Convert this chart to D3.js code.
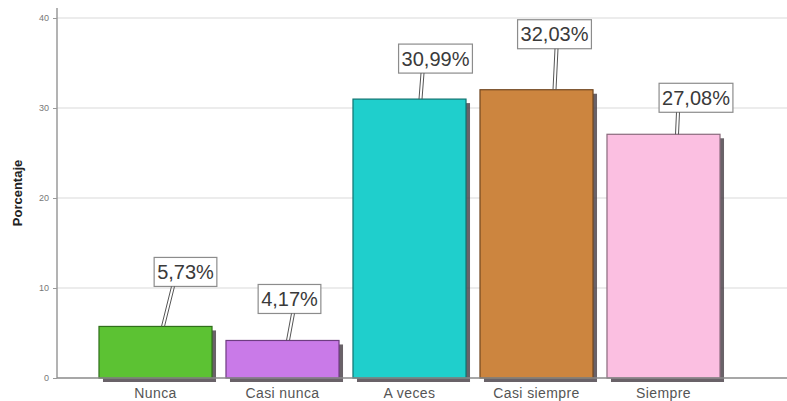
<!DOCTYPE html>
<html>
<head>
<meta charset="utf-8">
<script src="https://cdn.jsdelivr.net/npm/d3@7/dist/d3.min.js"></script>
<style>
  html, body { margin: 0; padding: 0; background: #fff; }
  svg { display: block; font-family: "Liberation Sans", Arial, sans-serif; }
</style>
</head>
<body>
<svg id="chart" width="787" height="401"></svg>
<script>
// Response categories and their percentages
const categories = ["Nunca", "Casi nunca", "A veces", "Casi siempre", "Siempre"];
const percentages = [5.73, 4.17, 30.99, 32.03, 27.08];
const valueLabels = ["5,73%", "4,17%", "30,99%", "32,03%", "27,08%"];
const yTicks = [0, 10, 20, 30, 40];
const barColors = ["#5cc233", "#c97ae8", "#1fcfcc", "#cc853f", "#fbbfe1"];
const barStrokes = ["#2f6e1a", "#6e3d82", "#107370", "#70461f", "#8a6a7c"];

// Callout placement relative to each bar centre: box centre dx, gap above bar,
// leader top dx and leader bottom dx
const calloutDx = [30, 7, 26, 18, 32.5];
const calloutGap = [40, 27, 26, 41, 22];
const leaderTopDx = [17.5, 10.5, 13, 20, 14.5];
const leaderBottomDx = [7.5, 5.5, 11, 18, 13.5];

const svg = d3.select("#chart");
const W = 787;
const axisX = 57;

const x = d3.scaleBand()
  .domain(categories)
  .range([92, 727])
  .paddingInner(0.11)
  .paddingOuter(0.055);

const y = d3.scaleLinear()
  .domain([0, 40])
  .range([378, 18]);

// Horizontal gridlines
svg.append("g")
  .selectAll("line")
  .data(yTicks.filter(d => d > 0))
  .join("line")
  .attr("x1", axisX)
  .attr("x2", W)
  .attr("y1", d => y(d))
  .attr("y2", d => y(d))
  .attr("stroke", "#d9d9d9")
  .attr("stroke-width", 1.2);

// Y axis
const yAxis = svg.append("g")
  .attr("transform", `translate(${axisX},0)`)
  .call(d3.axisLeft(y).tickValues(yTicks).tickSize(4).tickPadding(4));
yAxis.select(".domain").remove();
yAxis.selectAll(".tick line").attr("stroke", "#999");
yAxis.selectAll(".tick text")
  .attr("fill", "#777")
  .style("font-size", "9px")
  .style("font-family", "'Liberation Sans', Arial, sans-serif");

svg.append("line")
  .attr("x1", axisX).attr("x2", axisX)
  .attr("y1", 8).attr("y2", y(0))
  .attr("stroke", "#9a9a9a")
  .attr("stroke-width", 1.5);

// Axis title
svg.append("text")
  .attr("transform", `translate(22,193) rotate(-90)`)
  .attr("text-anchor", "middle")
  .attr("font-size", "13px")
  .attr("font-weight", "bold")
  .attr("fill", "#222")
  .text("Porcentaje");

const rows = categories.map((c, i) => ({ c, v: percentages[i], i }));

// Drop shadows
svg.append("g")
  .selectAll("rect")
  .data(rows)
  .join("rect")
  .attr("x", d => x(d.c) + 4)
  .attr("y", d => y(d.v) + 4)
  .attr("width", x.bandwidth())
  .attr("height", d => y(0) - y(d.v))
  .attr("fill", "#4f474d")
  .attr("opacity", 0.85);

// Bars
svg.append("g")
  .selectAll("rect")
  .data(rows)
  .join("rect")
  .attr("x", d => x(d.c))
  .attr("y", d => y(d.v))
  .attr("width", x.bandwidth())
  .attr("height", d => y(0) - y(d.v))
  .attr("fill", d => barColors[d.i])
  .attr("stroke", d => barStrokes[d.i])
  .attr("stroke-width", 1.2);

// X axis baseline
svg.append("line")
  .attr("x1", axisX).attr("x2", W)
  .attr("y1", y(0)).attr("y2", y(0))
  .attr("stroke", "#8a8a8a")
  .attr("stroke-width", 1.5);

// Category labels
svg.append("g")
  .selectAll("text")
  .data(rows)
  .join("text")
  .attr("x", d => x(d.c) + x.bandwidth() / 2)
  .attr("y", 398)
  .attr("text-anchor", "middle")
  .attr("font-size", "14px")
  .attr("letter-spacing", "0.4px")
  .attr("fill", "#555")
  .text(d => d.c);

// Value callouts: boxed label plus a double leader line to the bar top
const boxH = 29;
const callouts = svg.append("g")
  .selectAll("g")
  .data(rows)
  .join("g");

callouts.each(function (d) {
  const g = d3.select(this);
  const cx = x(d.c) + x.bandwidth() / 2;
  const top = y(d.v);
  const boxBottom = top - calloutGap[d.i];
  const boxTop = boxBottom - boxH;

  const txt = g.append("text")
    .attr("x", cx + calloutDx[d.i])
    .attr("y", boxTop + boxH / 2 + 7)
    .attr("text-anchor", "middle")
    .attr("font-size", "20px")
    .attr("fill", "#3a3a3a")
    .text(valueLabels[d.i]);
  const tw = txt.node().getComputedTextLength();
  const boxW = tw + 6;

  g.insert("rect", "text")
    .attr("x", cx + calloutDx[d.i] - boxW / 2)
    .attr("y", boxTop)
    .attr("width", boxW)
    .attr("height", boxH)
    .attr("fill", "#fff")
    .attr("stroke", "#8c8c8c")
    .attr("stroke-width", 1.2);

  [-1.5, 1.5].forEach(off => {
    g.append("line")
      .attr("x1", cx + leaderTopDx[d.i] + off)
      .attr("y1", boxBottom)
      .attr("x2", cx + leaderBottomDx[d.i] + off)
      .attr("y2", top)
      .attr("stroke", "#555")
      .attr("stroke-width", 1);
  });
});
</script>
</body>
</html>
